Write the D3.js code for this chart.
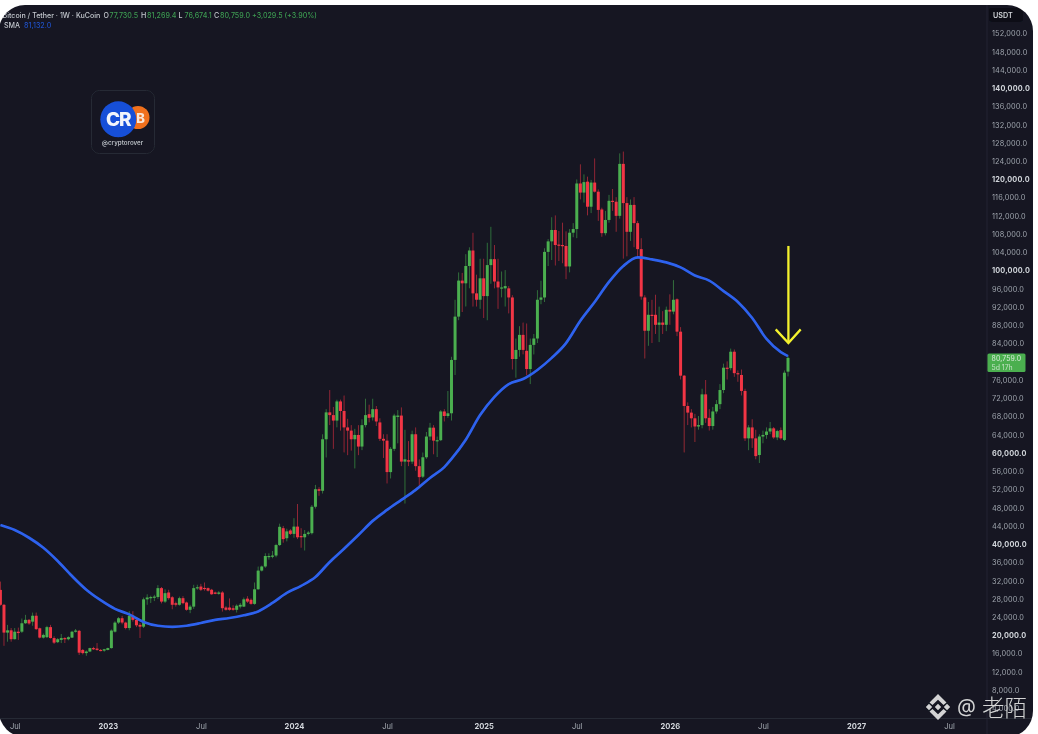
<!DOCTYPE html>
<html>
<head>
<meta charset="utf-8">
<script src="https://d3js.org/d3.v7.min.js"></script>
<style>
html, body { margin: 0; padding: 0; background: #fff; overflow: hidden; }
svg { display: block; }
</style>
</head>
<body>
<svg id="chart"></svg>
<script>
let width = 1038
let height = 734
let fontFamily = "Inter, 'Liberation Sans', sans-serif"

// prices in thousands of USDT, one entry per weekly bar
let opens = [
  29.87,26.6,20.5,21,19.05,20.7,20.7,22.55,23.3,22.9,
  24.2,21.45,19.4,19.5,21.7,19.3,18.4,18.9,19.3,19.05,
  19.4,20.7,20.9,16.7,16,16.35,17.1,17,16.7,16.55,
  16.7,17.1,20.7,22.7,23.65,22.7,21.5,24.2,23.3,22.2,
  21.8,27.8,28.05,28.2,28.3,30.25,27.3,29.3,28.25,26.95,
  26.6,28.05,27.1,25.5,26.2,30.25,30.6,30.3,30.25,29.9,
  29.3,29,29.3,26,26,25.85,25.5,26.2,26.2,27.95,
  27.7,26.8,30,34.1,35,37.3,37.3,37.4,39.7,43.4,
  41.2,42.9,42.15,43.75,41.7,41.4,42.15,42.3,48.1,51.95,
  51.6,62.9,68.8,68.2,67,71.2,69.1,65.5,64.8,62.9,
  63.85,61.3,66,68.4,67.7,69.5,66.6,63,62.6,55.7,
  60.8,67.8,68.1,58,58.3,58,64,57,54.7,58.95,
  63.5,65.45,62.6,62.7,69,68,68.6,80.3,89.8,97.7,
  97.1,100.9,104.3,94.9,93.5,98.2,94.3,101.1,102.4,97.5,
  96,96,96,94,80.5,82.5,85.8,82.3,78.3,83.6,
  85,93.5,94,104,106.3,108.8,105.6,105.5,105.3,100.8,
  108.2,109,119,117,119.4,113.9,119.2,117.2,113.3,108.1,
  111,115.2,115,111.9,123.3,114.7,108.4,114.3,110.3,104.6,
  94,86.7,90.2,90.2,88,88.5,88,91.3,90.9,93.6,
  86.5,76.85,70.2,68.75,67.5,65.7,66,72.75,67.6,65.8,
  69,70.6,73.7,78.6,78.5,82.1,77.4,77,73.5,63.1,
  65.5,63.1,59.45,63.5,63.85,64.6,65.3,63.3,64.9,62.75,
  77.73
]
let closes = [
  26.6,20.5,21,19.05,20.7,20.4,22.55,23.3,22.5,24.2,
  21.25,19.4,20,21.7,19.3,18.3,19.05,19.3,19.05,19.5,
  20.7,20.95,16.1,16,16.35,17.1,16.85,16.7,16.55,16.85,
  17.1,20.95,22.7,23.65,22.7,21.5,24.2,23.3,22.1,21.8,
  27.8,28.2,28.3,28.4,30.25,27.3,29.15,28.05,26.6,26.6,
  28.05,26.95,25.5,26.2,30.25,30.45,29.9,30.2,29.7,28.9,
  29,29.3,25.85,25.5,25.5,25.5,26.4,26.6,27.8,27.3,
  26.8,30,34.1,35,37.3,37.3,37.4,39.7,43.7,41,
  42.7,42.15,43.75,41.4,41.4,42.15,42.45,48.1,51.95,51.6,
  62.9,68.8,68.2,67,71.2,69.1,65.5,64.8,62.9,63.85,
  61.3,66,68.2,67.6,69.5,66.8,63,62.6,55.7,60.8,
  68.1,68.1,58,58.5,58,64,57,54.6,58.95,63.5,
  65.45,62.6,62.7,69,68,68.6,80.3,89.8,97.7,97.1,
  100.9,104.3,94.9,93.5,98.2,94.3,101.1,102.4,97.5,96.2,
  96.2,96.5,94,80.5,82.5,85.8,82.5,78.3,83.6,85,
  93.5,94,104,106.3,108.8,105.5,105.5,105.3,100.8,108.2,
  109,119,117,119.3,113.9,119.2,117.2,113.2,108.1,111,
  115.2,115,111.9,123.3,114.7,108.4,114.3,110.3,104.6,94.2,
  86.7,90.2,90,88,88.5,88,91.3,90.9,93.5,86.5,
  76.85,70.2,68.75,67.5,65.7,66,72.75,67.5,65.8,69,
  70.6,73.7,78.6,78.5,82.1,77.4,77.2,73.5,63.1,65.5,
  63.1,59.2,63.5,63.85,64.6,65.3,63.3,64.7,63.1,77.5,
  80.759
]
let highs = [
  31.7,26.8,22.2,21.5,21.5,21.6,23.6,24.4,23.5,24.9,
  24.9,21.6,20.3,22,22.2,19.7,19.3,20.2,19.5,19.7,
  20.9,21.3,21.1,16.9,16.6,17.2,17.4,18.2,16.9,16.95,
  17.2,21.2,23,23.9,24.2,22.9,25.2,25.2,23.6,22.6,
  28.2,28.9,28.6,28.8,30.9,30.5,30,29.9,28.5,27.3,
  28.4,28.5,27.3,26.6,31,31,31.2,31.5,30.4,30.1,
  29.5,29.6,29.6,26.3,28,26.5,26.7,27,28.2,28.5,
  28,31.5,35,35.2,37.9,37.9,38.4,40,44.4,43.9,
  43.3,43.2,45.6,48.7,43.4,43,42.8,48.5,52.9,52.4,
  64,69.5,73.7,70,71.6,71.6,72.5,67.4,66,65.2,
  66,67.3,71.8,70.5,71.8,70.2,67.5,64,64,61.2,
  68.5,69.3,69.9,65,62.5,64.8,65.5,58.5,60,64.5,
  66.5,66,63.5,69.3,69.5,73.5,81,93.5,99.5,99.4,
  103.5,105,108.2,99,102.5,102.5,106,109.5,105.5,102.5,
  99.7,100,96.5,94.5,85,87.7,88.5,88.3,85,86,
  95.6,97.7,104.8,106.8,111.6,112,108.6,110.4,108.5,109,
  110.3,119.9,123.2,121,120.5,119.8,124.5,117.7,113.7,113,
  116.5,117.8,116,125.6,126,116,115.5,116,110.8,107,
  94.5,93,93.5,94.6,92,91,92,94.7,97.8,93.8,
  87.5,77,71,69.5,68.5,68,74,75.9,69.5,70,
  71.5,75,79.5,80,82.8,82.6,78,78.2,74,66,
  67.3,65,64,64.8,65.5,66.7,65.6,65,65.5,78,
  81.269
]
let lows = [
  26.4,17.6,18.5,18.5,19,18.9,20.4,22.4,22.2,22,
  21.1,19.2,19.2,19.3,19.2,18,18.2,18.2,18.2,18.8,
  19.3,20.5,15.6,15.7,15.4,16.2,16.7,16.5,16.4,16.3,
  16.6,17,20.5,22.4,22.3,21.2,21,22.9,21.7,19.3,
  21.5,26.6,27,27.4,27.9,26.9,27,27.7,25.6,26.2,
  26.4,26.7,25.3,24.75,25.7,29.9,29.6,29.7,29.5,28.8,
  28.9,28.8,25.1,25.3,25.3,25.3,24.9,25.8,26.1,27,
  26.6,26.6,29.9,33.9,34.7,36.5,36.8,37,39.5,40.2,
  40.5,41.9,41.3,41,39.1,38.5,41.8,42,47.7,50.5,
  51,58.9,66,60.8,65.5,64.8,60,59.4,60.4,56.5,
  59.4,60.5,65.5,66.6,67,65.8,62.5,58.8,53.2,54.3,
  60.3,62,57,48.8,57,57.5,56,52.6,54.4,58.6,
  62.7,59.6,59,62.5,66.8,67.6,67,77,89,90.8,
  92,96,92,92,91.5,89.5,89,97,96,91.5,
  94,92,90.5,78.2,76.4,81,81.5,76.9,75,81.5,
  84,92.5,93,100.9,102.2,101,102,101.5,98,99.5,
  107.2,107,115.5,114.8,112,112.5,117,110.8,107.3,107.6,
  110.4,113,108.4,111.3,102.5,103,106.4,105,102.5,93.5,
  80.6,83.4,84,86,84.2,86,86.6,88,90.3,85.5,
  76,60,66,65.5,62.3,65,65.3,66.5,64.8,65,
  68.5,69.5,73,76,78,76.6,75.5,72.5,62.5,60.5,
  61,58.5,57.7,62,63,64,63,62.7,62.8,62.5,
  76.674
]

// SMA at these bar numbers
let smaBars = [0,4,8,12,16,20,24,28,32,36,40,44,48,52,56,60,64,68,72,76,80,84,88,92,96,100,104,108,112,116,120,124,126,130,134,138,142,146,150,154,158,162,166,170,174,178,182,186,190,194,198,202,206,210,214,218,220]
let smaValues = [44.1,43,41.3,39.1,36.2,32.9,29.9,27.6,25.7,24.5,22.85,22,21.75,22,22.6,23.3,23.7,24.3,25.15,27,29.2,30.75,32.7,36,38.9,41.9,45,47.4,49.6,51.8,54.4,56.8,58.6,62.8,68.2,72.2,75,76.1,78.1,80.75,84,88.9,93,97.4,100.9,102.8,102.35,101.7,100.6,98.8,97.7,95.4,93,89.5,84.9,82,81.13]

// 80 sits under the last price tag, so it is not listed
let priceTicks = [4,8,12,16,20,24,28,32,36,40,44,48,52,56,60,64,68,72,76,84,88,92,96,100,104,108,112,116,120,124,128,132,136,140,144,148,152]
let boldTicks = [20, 40, 60, 100, 120, 140]
let timeTickBars = [4, 30, 56, 82, 108, 135, 161, 187, 213, 239, 265]
let timeTickLabels = ['Jul', '2023', 'Jul', '2024', 'Jul', '2025', 'Jul', '2026', 'Jul', '2027', 'Jul']

let legendTitle = 'Bitcoin / Tether · 1W · KuCoin'
let legendOHLC = [['O', '77,730.5', 103.5], ['H', '81,269.4', 141], ['L', '76,674.1', 178.5], ['C', '80,759.0', 214]]
let legendChange = '+3,029.5 (+3.90%)'
let smaName = 'SMA'
let smaLast = '81,132.0'
let lastPriceText = '80,759.0'
let countdownText = '5d 17h'
let unitText = 'USDT'

// arrow ends, in the same price units as the bars
let arrowTop = 105.3
let arrowTip = 84
let arrowHead = 87

let bg = '#121520'
let up = '#4caf50'
let down = '#f23645'
let grey = '#a3a6af'

let svg = d3.select('#chart')
    .attr('width', width)
    .attr('height', height)
    .style('font-family', fontFamily)

svg.append('defs').append('clipPath')
    .attr('id', 'frame')
    .append('rect')
    .attr('x', -1).attr('y', 5)
    .attr('width', 1034).attr('height', 732)
    .attr('rx', 26).attr('ry', 26)

let soft = svg.select('defs').append('filter')
    .attr('id', 'soft')
    .attr('x', '-2%').attr('y', '-2%').attr('width', '104%').attr('height', '104%')
soft.append('feGaussianBlur').attr('stdDeviation', 0.4)

let page = svg.append('g')
    .attr('clip-path', 'url(#frame)')
    .append('g')
    .attr('filter', 'url(#soft)')

page.append('rect')
    .attr('x', -1).attr('y', 0)
    .attr('width', width + 2).attr('height', height + 2)
    .attr('fill', bg)

let x = d3.scaleLinear().domain([0, 220]).range([0.4, 788])
let y = d3.scaleLinear().domain([8, 152]).range([689.6, 33])

// candles
let bars = d3.range(closes.length)
let plot = page.append('g')

plot.append('g')
    .selectAll('line')
    .data(bars)
    .enter().append('line')
    .attr('x1', i => x(i))
    .attr('x2', i => x(i))
    .attr('y1', i => y(highs[i]))
    .attr('y2', i => y(lows[i]))
    .attr('stroke', i => closes[i] >= opens[i] ? up : down)
    .attr('stroke-width', 0.9)
    .attr('opacity', 0.65)

plot.append('g')
    .selectAll('rect')
    .data(bars)
    .enter().append('rect')
    .attr('x', i => x(i) - 1.5)
    .attr('width', 3)
    .attr('y', i => y(Math.max(opens[i], closes[i])))
    .attr('height', i => Math.max(1.2, Math.abs(y(opens[i]) - y(closes[i]))))
    .attr('fill', i => closes[i] >= opens[i] ? up : down)

// SMA
let sma_line = d3.line()
    .x((d, k) => x(smaBars[k]))
    .y(d => y(d))
    .curve(d3.curveMonotoneX)

plot.append('path')
    .attr('d', sma_line(smaValues))
    .attr('fill', 'none')
    .attr('stroke', '#2f62ee')
    .attr('stroke-width', 2.7)

// arrow
let arrow = plot.append('g')
    .attr('fill', 'none')
    .attr('stroke', '#f4f12f')
    .attr('stroke-width', 2.3)
    .attr('stroke-linejoin', 'miter')
arrow.append('path')
    .attr('d', `M${x(220) + 0.4},${y(arrowTop)}V${y(arrowTip)}`)
arrow.append('path')
    .attr('d', `M${x(220) - 12.3},${y(arrowHead)}L${x(220) + 0.4},${y(arrowTip)}L${x(220) + 12.7},${y(arrowHead)}`)

// axis lines
page.append('line')
    .attr('x1', 0).attr('x2', width).attr('y1', 718.5).attr('y2', 718.5)
    .attr('stroke', '#272a36')
page.append('line')
    .attr('x1', 987).attr('x2', 987).attr('y1', 0).attr('y2', height)
    .attr('stroke', '#272a36')

// price axis
let axis_y = d3.axisRight()
    .scale(y)
    .tickValues(priceTicks)
    .tickSize(0)
    .tickPadding(0)
    .tickFormat(d => d3.format(',.1f')(d * 1000))

let y_axis = page.append('g')
    .attr('transform', 'translate(992, 0.5)')
    .call(axis_y)
    .attr('font-family', fontFamily)
    .attr('font-size', 7.3)
y_axis.select('.domain').remove()
y_axis.selectAll('text')
    .attr('fill', d => boldTicks.includes(d) ? '#d3d5db' : grey)
    .attr('font-weight', d => boldTicks.includes(d) ? 700 : 400)
    .attr('letter-spacing', 0.15)

// time axis
let axis_x = d3.axisBottom()
    .scale(x)
    .tickValues(timeTickBars)
    .tickSize(0)
    .tickPadding(0)
    .tickFormat((d, i) => timeTickLabels[i])

let x_axis = page.append('g')
    .attr('transform', 'translate(0, 724)')
    .call(axis_x)
    .attr('font-family', fontFamily)
    .attr('font-size', 7.6)
x_axis.select('.domain').remove()
x_axis.selectAll('text')
    .attr('fill', (d, i) => timeTickLabels[i] == 'Jul' ? grey : '#d3d5db')
    .attr('font-weight', (d, i) => timeTickLabels[i] == 'Jul' ? 400 : 700)

// USDT box
page.append('rect')
    .attr('x', 989).attr('y', 8)
    .attr('width', 34).attr('height', 13.5)
    .attr('rx', 3)
    .attr('fill', '#0b0d13')
page.append('text')
    .attr('x', 993).attr('y', 17.6)
    .attr('font-size', 7.2).attr('font-weight', 600)
    .attr('fill', '#d3d5db')
    .text(unitText)

// last price tag
page.append('rect')
    .attr('x', 987.5).attr('y', 353.5)
    .attr('width', 38).attr('height', 18.5)
    .attr('rx', 1.5)
    .attr('fill', up)
page.append('text')
    .attr('x', 991.5).attr('y', 360.6)
    .attr('font-size', 6.9).attr('fill', '#d8ecd9')
    .attr('letter-spacing', 0.15)
    .text(lastPriceText)
page.append('text')
    .attr('x', 991.5).attr('y', 369.6)
    .attr('font-size', 6.9).attr('fill', '#c4e3c6')
    .text(countdownText)

// legend
let legend = page.append('g')
    .attr('font-size', 7.1)
    .attr('font-weight', 500)
legend.append('text')
    .attr('x', 2.5).attr('y', 18)
    .attr('fill', '#c6c8cf')
    .text(legendTitle)
legendOHLC.forEach(d => {
    legend.append('text')
        .attr('x', d[2]).attr('y', 18)
        .attr('fill', '#c6c8cf')
        .text(d[0])
    legend.append('text')
        .attr('x', d[2] + 6).attr('y', 18)
        .attr('fill', '#3f9a52')
        .text(d[1])
})
legend.append('text')
    .attr('x', 252).attr('y', 18)
    .attr('fill', '#3f9a52')
    .text(legendChange)
legend.append('text')
    .attr('x', 4).attr('y', 27.5)
    .attr('fill', '#c6c8cf')
    .text(smaName)
legend.append('text')
    .attr('x', 24).attr('y', 27.5)
    .attr('fill', '#2350c4')
    .text(smaLast)

// logo card
let logo = page.append('g')
logo.append('rect')
    .attr('x', 91.5).attr('y', 90.5)
    .attr('width', 63).attr('height', 63)
    .attr('rx', 8)
    .attr('fill', 'none')
    .attr('stroke', '#272a34')
logo.append('circle')
    .attr('cx', 138).attr('cy', 117.5).attr('r', 11.5)
    .attr('fill', '#f0701f')
logo.append('text')
    .attr('x', 140.5).attr('y', 122.5)
    .attr('text-anchor', 'middle')
    .attr('font-size', 13).attr('font-weight', 800)
    .attr('fill', '#f7e6d8')
    .text('B')
logo.append('circle')
    .attr('cx', 118.3).attr('cy', 119.3).attr('r', 18)
    .attr('fill', '#1550d8')
logo.append('text')
    .attr('x', 118.3).attr('y', 126)
    .attr('text-anchor', 'middle')
    .attr('font-size', 19).attr('font-weight', 800)
    .attr('letter-spacing', -1)
    .attr('fill', '#f2f5fb')
    .text('CR')
logo.append('text')
    .attr('x', 122.5).attr('y', 144.5)
    .attr('text-anchor', 'middle')
    .attr('font-size', 6.2).attr('font-weight', 600)
    .attr('fill', '#b9bbc2')
    .text('@cryptorover')

// watermark
let mark = page.append('g')
    .attr('fill', '#e4e4e4')
    .attr('opacity', 0.92)
let diamond = (cx, cy, r) => `M${cx - r},${cy}L${cx},${cy - r}L${cx + r},${cy}L${cx},${cy + r}Z`
mark.append('path')
    .attr('d', diamond(938, 707, 3.2) + diamond(929, 707, 3.2) + diamond(947, 707, 3.2)
        + 'M938,694L946.5,702.5L943.5,705L938,699.8L932.5,705L929.5,702.5Z'
        + 'M938,720L946.5,711.5L943.5,709L938,714.2L932.5,709L929.5,711.5Z')
mark.append('text')
    .attr('x', 957).attr('y', 715)
    .attr('font-family', "'Noto Sans', sans-serif")
    .attr('font-size', 21)
    .text('@')
mark.append('text')
    .attr('x', 982).attr('y', 715.5)
    .attr('font-family', "'Noto Sans CJK SC', sans-serif")
    .attr('font-size', 22.5)
    .attr('font-weight', 300)
    .text('老陌')
</script>
</body>
</html>
